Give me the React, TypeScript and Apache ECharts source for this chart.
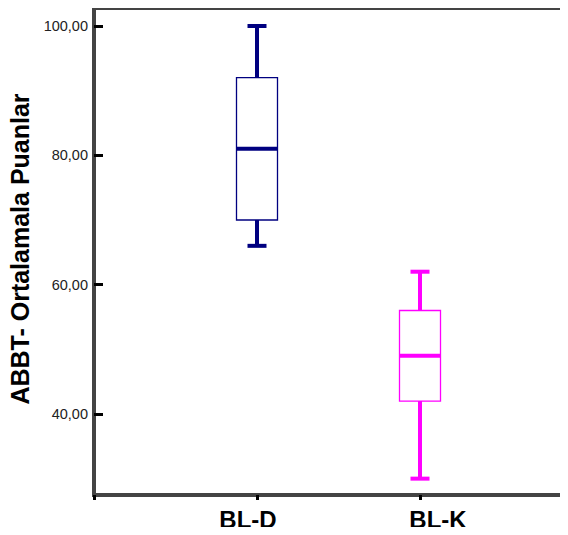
import React, { useEffect, useRef } from "react";
import * as echarts from "echarts";

// Box summaries per group: minimum, lower quartile, median, upper quartile, maximum
const groups = ["BL-D", "BL-K"];
const mins = [66, 30];
const q1s = [70, 42];
const medians = [81, 49];
const q3s = [92, 56];
const maxs = [100, 62];
const colors = ["#000080", "#FF00FF"];

// Category slots: an empty slot at each end so the groups sit at the 1st and 2nd ticks
const categories = ["", ...groups, ""];
const yTicks = [40, 60, 80, 100];

const fmt = (v: number) => v.toFixed(2).replace(".", ",");

export default function App() {
  const ref = useRef<HTMLDivElement>(null);

  useEffect(() => {
    if (!ref.current) return;
    const chart = echarts.init(ref.current, undefined, { renderer: "svg" });

    const data = groups.map((g, i) => [i + 1, mins[i], q1s[i], medians[i], q3s[i], maxs[i], i]);

    const renderItem = (params: any, api: any) => {
      const x = api.value(0);
      const ci = api.value(6);
      const color = colors[ci];
      const pMin = api.coord([x, api.value(1)]);
      const pQ1 = api.coord([x, api.value(2)]);
      const pMed = api.coord([x, api.value(3)]);
      const pQ3 = api.coord([x, api.value(4)]);
      const pMax = api.coord([x, api.value(5)]);
      const cx = pMed[0];
      const halfBox = 20.5;
      const halfCap = 9.5;
      const thick = { stroke: color, lineWidth: 4 };
      return {
        type: "group",
        children: [
          // upper whisker and cap
          { type: "line", shape: { x1: cx, y1: pQ3[1], x2: cx, y2: pMax[1] }, style: thick },
          { type: "line", shape: { x1: cx - halfCap, y1: pMax[1], x2: cx + halfCap, y2: pMax[1] }, style: thick },
          // lower whisker and cap
          { type: "line", shape: { x1: cx, y1: pQ1[1], x2: cx, y2: pMin[1] }, style: thick },
          { type: "line", shape: { x1: cx - halfCap, y1: pMin[1], x2: cx + halfCap, y2: pMin[1] }, style: thick },
          // interquartile box
          {
            type: "rect",
            shape: { x: cx - halfBox, y: pQ3[1], width: halfBox * 2, height: pQ1[1] - pQ3[1] },
            style: { fill: "#ffffff", stroke: color, lineWidth: 1.3 },
          },
          // median
          { type: "line", shape: { x1: cx - halfBox, y1: pMed[1], x2: cx + halfBox, y2: pMed[1] }, style: thick },
        ],
      };
    };

    const labelStyle = { fontFamily: "Liberation Sans", fontWeight: "bold", fontSize: 24, lineHeight: 24, color: "#000000" };

    chart.setOption({
      animation: false,
      backgroundColor: "#ffffff",
      grid: {
        left: 94,
        right: -15,
        top: 8,
        bottom: 40,
        outerBoundsMode: "none",
        containLabel: false,
        show: true,
        borderColor: "#444444",
        borderWidth: 4,
      },
      xAxis: {
        type: "category",
        data: categories,
        boundaryGap: false,
        axisLine: { lineStyle: { color: "#444444", width: 4 } },
        axisTick: { show: true, length: 5, lineStyle: { color: "#000000", width: 3 } },
        axisLabel: {
          margin: 12,
          lineHeight: 24,
          formatter: (v: string) => (v === "BL-D" ? "{d|BL-D}" : v === "BL-K" ? "{k|BL-K}" : ""),
          rich: {
            d: { ...labelStyle, padding: [0, 18, 0, 0] },
            k: { ...labelStyle, padding: [0, 0, 0, 36] },
          },
        },
        splitLine: { show: false },
      },
      yAxis: {
        type: "value",
        min: 27.47,
        max: 102.78,
        name: "ABBT- Ortalamala Puanlar",
        nameLocation: "middle",
        nameRotate: 90,
        nameGap: 60,
        nameTextStyle: {
          fontFamily: "Liberation Sans",
          fontWeight: "bold",
          fontSize: 25,
          color: "#000000",
          padding: [0, 0, 0, 5],
        },
        axisLine: { show: true, lineStyle: { color: "#444444", width: 4 } },
        axisTick: { show: true, inside: true, length: 9, customValues: yTicks, lineStyle: { color: "#000000", width: 3 } },
        axisLabel: {
          margin: 6,
          customValues: yTicks,
          formatter: (v: number) => fmt(v),
          fontFamily: "Liberation Sans",
          fontSize: 14.5,
          color: "#222222",
        },
        splitLine: { show: false },
      },
      series: [
        {
          type: "custom",
          renderItem,
          data,
          encode: { x: 0, y: [1, 2, 3, 4, 5] },
          clip: false,
        },
      ],
    });

    return () => chart.dispose();
  }, []);

  return <div ref={ref} style={{ width: 568, height: 535, margin: -8 }} />;
}
